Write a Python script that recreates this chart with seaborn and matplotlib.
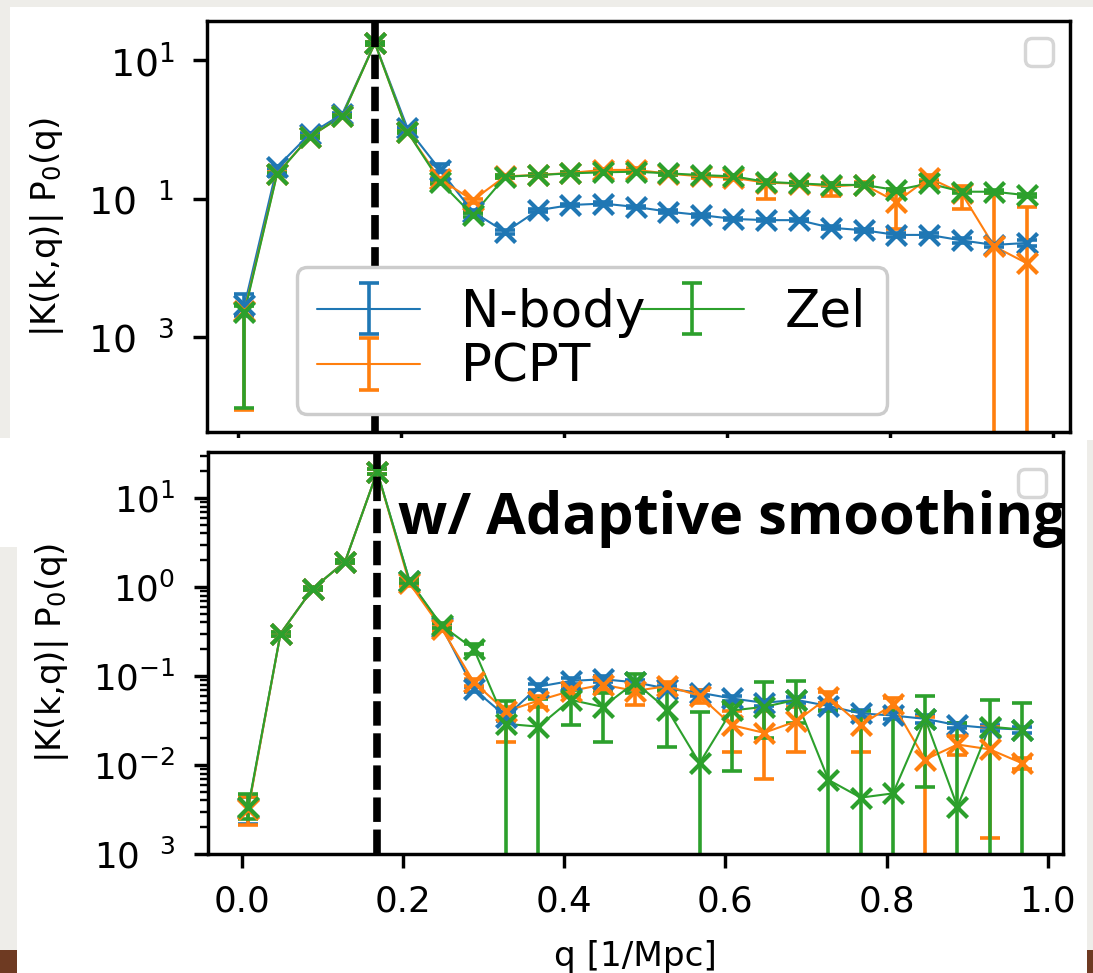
import numpy as np
import matplotlib
matplotlib.use("Agg")
import matplotlib.pyplot as plt
from matplotlib.patches import Rectangle
from matplotlib.legend import Legend
from matplotlib.ticker import NullLocator, LogLocator, NullFormatter
import seaborn as sns

# ---------------- data ----------------
q = [0.008, 0.048, 0.088, 0.128, 0.168, 0.208, 0.248, 0.288, 0.328, 0.368,
     0.408, 0.448, 0.488, 0.528, 0.568, 0.608, 0.648, 0.688, 0.728, 0.768,
     0.808, 0.848, 0.888, 0.928, 0.968]
k_line = 0.168
labels = ["N-body", "PCPT", "Zel"]

# top panel
top_nbody = [2.9e-3, 0.286, 0.855, 1.66, 17.6, 1.04, 0.26, 0.065, 0.033, 0.068, 0.081, 0.085, 0.076,
             0.065, 0.058, 0.051, 0.049, 0.049, 0.038, 0.035, 0.030, 0.030, 0.025, 0.0215, 0.023]
top_nbody_lo = [2.0e-3, 0.27, 0.82, 1.60, 16.5, 1.00, 0.25, 0.062, 0.031, 0.065, 0.078, 0.081, 0.073,
                0.062, 0.055, 0.049, 0.047, 0.047, 0.036, 0.033, 0.028, 0.028, 0.023, 0.020, 0.021]
top_nbody_hi = [4.2e-3, 0.30, 0.89, 1.72, 18.5, 1.08, 0.32, 0.068, 0.035, 0.071, 0.084, 0.089, 0.079,
                0.068, 0.061, 0.053, 0.051, 0.051, 0.040, 0.037, 0.032, 0.032, 0.027, 0.023, 0.025]

top_pcpt = [2.4e-3, 0.23, 0.78, 1.57, 17.6, 0.92, 0.19, 0.095, 0.21, 0.22, 0.235, 0.26, 0.26,
            0.23, 0.21, 0.20, 0.17, 0.165, 0.15, 0.16, 0.09, 0.20, 0.12, 0.0205, 0.0117]
top_pcpt_lo = [8.8e-5, 0.22, 0.75, 1.52, 16.5, 0.88, 0.18, 0.088, 0.20, 0.21, 0.225, 0.25, 0.245,
               0.22, 0.20, 0.19, 0.10, 0.155, 0.11, 0.15, 0.037, 0.185, 0.072, 1e-7, 1e-7]
top_pcpt_hi = [2.9e-3, 0.24, 0.81, 1.62, 18.5, 0.96, 0.20, 0.10, 0.22, 0.23, 0.245, 0.27, 0.275,
               0.24, 0.22, 0.21, 0.18, 0.175, 0.17, 0.175, 0.14, 0.22, 0.15, 0.12, 0.075]

top_zel = [2.3e-3, 0.226, 0.78, 1.57, 17.6, 0.92, 0.175, 0.058, 0.207, 0.219, 0.232, 0.24, 0.245,
           0.232, 0.219, 0.21, 0.175, 0.166, 0.158, 0.158, 0.133, 0.166, 0.126, 0.126, 0.112]
top_zel_lo = [9.5e-5, 0.215, 0.75, 1.52, 16.5, 0.88, 0.165, 0.054, 0.197, 0.209, 0.222, 0.23, 0.235,
              0.222, 0.209, 0.20, 0.167, 0.158, 0.150, 0.150, 0.126, 0.158, 0.120, 0.120, 0.106]
top_zel_hi = [2.8e-3, 0.237, 0.81, 1.62, 18.5, 0.96, 0.185, 0.062, 0.217, 0.229, 0.242, 0.25, 0.255,
              0.242, 0.229, 0.22, 0.183, 0.174, 0.166, 0.166, 0.140, 0.174, 0.132, 0.132, 0.118]

# bottom panel (adaptive smoothing)
bot_nbody = [3.3e-3, 0.30, 0.96, 1.92, 19.8, 1.18, 0.36, 0.071, 0.035, 0.076, 0.088, 0.092, 0.085,
             0.072, 0.065, 0.056, 0.050, 0.054, 0.046, 0.038, 0.036, 0.033, 0.028, 0.026, 0.025]
bot_nbody_lo = [2.2e-3, 0.285, 0.92, 1.85, 18.5, 1.12, 0.34, 0.066, 0.031, 0.070, 0.082, 0.085, 0.079,
                0.067, 0.060, 0.052, 0.046, 0.050, 0.042, 0.035, 0.033, 0.030, 0.026, 0.024, 0.023]
bot_nbody_hi = [4.4e-3, 0.315, 1.0, 2.0, 21.0, 1.24, 0.38, 0.076, 0.039, 0.082, 0.094, 0.099, 0.091,
                0.077, 0.070, 0.060, 0.054, 0.058, 0.050, 0.041, 0.039, 0.036, 0.030, 0.028, 0.027]

bot_pcpt = [3.2e-3, 0.30, 0.96, 1.92, 19.8, 1.10, 0.34, 0.085, 0.040, 0.053, 0.068, 0.080, 0.068,
            0.077, 0.060, 0.028, 0.023, 0.031, 0.058, 0.028, 0.048, 0.0115, 0.017, 0.015, 0.0105]
bot_pcpt_lo = [2.1e-3, 0.285, 0.92, 1.85, 18.5, 1.04, 0.32, 0.078, 0.018, 0.045, 0.060, 0.070, 0.047,
               0.068, 0.050, 0.014, 0.007, 0.014, 0.050, 0.014, 0.042, 1e-7, 0.013, 0.0015, 0.009]
bot_pcpt_hi = [4.4e-3, 0.315, 1.0, 2.0, 21.0, 1.16, 0.36, 0.092, 0.045, 0.060, 0.076, 0.090, 0.078,
               0.086, 0.070, 0.040, 0.040, 0.045, 0.066, 0.034, 0.056, 0.035, 0.021, 0.027, 0.012]

bot_zel = [3.4e-3, 0.30, 0.96, 1.92, 19.8, 1.18, 0.37, 0.20, 0.029, 0.027, 0.054, 0.045, 0.085,
           0.042, 0.0105, 0.041, 0.045, 0.054, 0.0068, 0.0043, 0.0048, 0.033, 0.0034, 0.027, 0.025]
bot_zel_lo = [2.5e-3, 0.285, 0.92, 1.85, 18.5, 1.12, 0.35, 0.178, 1e-7, 1e-7, 0.028, 0.018, 0.065,
              0.016, 1e-7, 0.0085, 0.020, 0.030, 1e-7, 1e-7, 1e-7, 0.0057, 1e-7, 1e-7, 1e-7]
bot_zel_hi = [4.7e-3, 0.315, 1.0, 2.0, 21.0, 1.24, 0.39, 0.23, 0.052, 0.055, 0.070, 0.065, 0.105,
              0.070, 0.039, 0.048, 0.085, 0.087, 0.040, 0.040, 0.040, 0.060, 0.030, 0.054, 0.050]

top_yticks = [10, 0.1, 0.001]
top_yticklabels = [r"$10^{1}$", r"$10^{\ \ \,1}$", r"$10^{\ \ \,3}$"]
bot_yticks = [10, 1, 0.1, 0.01, 0.001]
bot_yticklabels = [r"$10^{1}$", r"$10^{0}$", r"$10^{-1}$", r"$10^{-2}$", r"$10^{\ \ \,3}$"]
xticks = [0.0, 0.2, 0.4, 0.6, 0.8, 1.0]

# ---------------- style ----------------
S = 2.47
sns.set_theme(style="ticks")
plt.rcParams.update({
    "font.family": ["DejaVu Sans"],
    "font.size": 10 * S,
    "mathtext.fontset": "dejavusans",
    "axes.linewidth": 1.0 * S,
    "axes.edgecolor": "black",
    "axes.labelcolor": "black",
    "text.color": "black",
    "xtick.color": "black", "ytick.color": "black",
    "xtick.labelsize": 10.4 * S, "ytick.labelsize": 10.4 * S,
    "axes.labelsize": 10 * S,
    "xtick.major.size": 4.0 * S, "ytick.major.size": 4.0 * S,
    "xtick.major.width": 1.0 * S, "ytick.major.width": 1.0 * S,
    "xtick.minor.size": 2.2 * S, "ytick.minor.size": 2.2 * S,
    "xtick.minor.width": 0.7 * S, "ytick.minor.width": 0.7 * S,
    "xtick.major.pad": 4.8 * S, "ytick.major.pad": 5.5 * S,
    "axes.labelpad": 6.5 * S,
    "legend.fontsize": 10 * S,
})
colors = sns.color_palette("tab10")[:3]

W, H = 1093, 973
fig = plt.figure(figsize=(W / 100, H / 100), dpi=100, facecolor="#eeede9")


def rect(x0, y0, x1, y1, color, z):
    fig.add_artist(Rectangle((x0 / W, 1 - y1 / H), (x1 - x0) / W, (y1 - y0) / H,
                             transform=fig.transFigure, facecolor=color,
                             edgecolor="none", zorder=z))


# slide background pieces
rect(10, 7, 1100, 440, "white", 0.1)
rect(0, 438, 17, 547, "white", 0.1)
rect(0, 950, 1100, 980, "#6e3a22", 0.1)
rect(17, 438, 1087, 980, "white", 1.5)

ax1 = fig.add_axes([207 / W, 1 - 432 / H, 863 / W, 411 / H], zorder=1)
ax2 = fig.add_axes([208 / W, 1 - 854 / H, 855 / W, 402 / H], zorder=2)


def draw(ax, series):
    qa = np.array(q)
    for name, v, lo, hi, c in series:
        v = np.array(v)
        yerr = [v - np.array(lo), np.array(hi) - v]
        ax.errorbar(qa, v, yerr=yerr, fmt="-", color=c, lw=1.5, elinewidth=2.6,
                    capsize=7, capthick=2.6, label=name)
        sns.scatterplot(x=qa, y=v, ax=ax, color=c, marker="x", s=210,
                        linewidth=3.0, legend=False, zorder=3)
    ax.axvline(k_line, color="black", lw=5.5, linestyle=(0, (3.2, 1.0)), zorder=4)
    ax.set_yscale("log")
    ax.set_ylabel("|K(k,q)| P$_0$(q)")


draw(ax1, [(labels[0], top_nbody, top_nbody_lo, top_nbody_hi, colors[0]),
           (labels[1], top_pcpt, top_pcpt_lo, top_pcpt_hi, colors[1]),
           (labels[2], top_zel, top_zel_lo, top_zel_hi, colors[2])])
draw(ax2, [(labels[0], bot_nbody, bot_nbody_lo, bot_nbody_hi, colors[0]),
           (labels[1], bot_pcpt, bot_pcpt_lo, bot_pcpt_hi, colors[1]),
           (labels[2], bot_zel, bot_zel_lo, bot_zel_hi, colors[2])])

# top axes
ax1.set_xlim(-0.038, 1.021)
ax1.set_ylim(4.3e-5, 36.6)
ax1.set_xticks(xticks)
ax1.tick_params(axis="x", labelbottom=False)
ax1.set_yticks(top_yticks)
ax1.set_yticklabels(top_yticklabels)
ax1.tick_params(axis="y", labelsize=11 * S)
ax1.yaxis.set_minor_locator(NullLocator())

# bottom axes
ax2.set_xlim(-0.042, 1.019)
ax2.set_ylim(1e-3, 32.9)
ax2.set_xticks(xticks)
ax2.set_xticklabels([f"{t:.1f}" for t in xticks])
ax2.set_yticks(bot_yticks)
ax2.set_yticklabels(bot_yticklabels)
ax2.yaxis.set_minor_locator(LogLocator(base=10, subs=np.arange(2, 10), numticks=100))
ax2.yaxis.set_minor_formatter(NullFormatter())
ax2.set_xlabel("q [1/Mpc]")

# legends: empty boxes at upper right (as in the original figure)
for ax in (ax1, ax2):
    e = Legend(ax, [], [], loc="upper right", frameon=True, fancybox=True,
               edgecolor="0.8", framealpha=0.8)
    e.get_frame().set_linewidth(1.0 * S)
    ax.add_artist(e)

h, l = ax1.get_legend_handles_labels()
leg = ax1.legend(h, l, ncol=2, loc="lower left", bbox_to_anchor=(0.104, 0.045),
                 borderaxespad=0, fontsize=15 * S, columnspacing=-0.1,
                 labelspacing=0.1, frameon=True, fancybox=True,
                 edgecolor="0.8", framealpha=1)
leg.get_frame().set_linewidth(1.0 * S)

fig.text(398 / W, 1 - 534 / H, "w/ Adaptive smoothing", fontsize=41.5,
         fontweight="bold", family=["Open Sans", "DejaVu Sans"], ha="left",
         va="baseline", zorder=5)

fig.savefig("out.png", dpi=100, facecolor=fig.get_facecolor())
